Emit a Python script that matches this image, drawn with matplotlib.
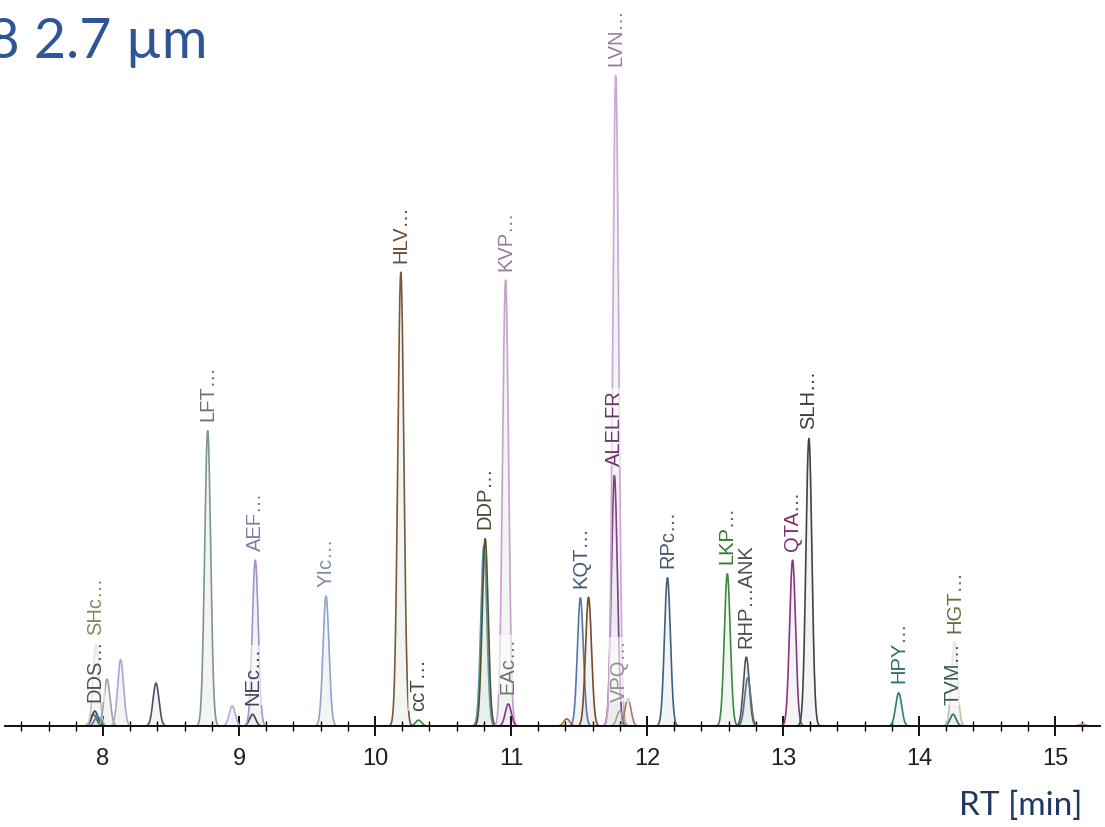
import numpy as np
import matplotlib
matplotlib.use("Agg")
import matplotlib.pyplot as plt
from matplotlib.ticker import MultipleLocator

# retention time (min), relative intensity (%), trace colour
peak_rt = [7.93, 7.94, 7.95, 7.96, 8.03, 8.13, 8.39, 8.77, 8.95, 9.10, 9.12,
           9.64, 10.19, 10.32, 10.80, 10.81, 10.96, 10.98, 11.41, 11.51, 11.57,
           11.76, 11.77, 11.80, 11.86, 12.15, 12.59, 12.73, 12.74, 13.07, 13.19,
           13.85, 14.25, 14.26, 15.20]
peak_height = [1.8, 2.3, 12.6, 1.5, 7.2, 10.2, 6.6, 45.4, 3.1, 1.8, 25.5,
               20.0, 69.8, 0.9, 27.7, 28.8, 68.6, 3.4, 1.1, 19.7, 19.8,
               38.5, 100.0, 2.3, 4.2, 22.8, 23.4, 10.6, 7.4, 25.5, 44.2,
               5.1, 1.8, 12.9, 0.3]
peak_color = ["#3a7a3a", "#3a4a60", "#c8c4a8", "#5a7ab0", "#a0a0a0", "#b8a0d8",
              "#4a5262", "#7e978c", "#b8a8e0", "#404858", "#a890d0", "#8da6c6",
              "#7a5a3c", "#3f7f3f", "#5b9bb0", "#50502a", "#c8a0cc", "#8a3a8a",
              "#9a6a3a", "#5876a8", "#7a4a2a", "#853f85", "#cca6d6", "#a0a0a0",
              "#a08060", "#3f6080", "#3d8a3d", "#4a5560", "#607080", "#8e3585",
              "#3e444c", "#2f7f77", "#2f6f6a", "#c6c2a0", "#c080c0"]

# peptide annotations: index into the peak lists, text, text colour
label_peak = [2, 1, 7, 10, 9, 11, 12, 13, 15, 16, 17, 19, 21, 22, 23, 25, 26,
              27, 29, 30, 31, 32, 33]
label_text = ["SHc…", "DDS…", "LFT…", "AEF…", "NEc…", "YIc…", "HLV…", "ccT…",
              "DDP…", "KVP…", "EAc…", "KQT…", "ALELFR", "LVN…", "VPQ…", "RPc…",
              "LKP…", "RHP…ANK", "QTA…", "SLH…", "HPY…", "TVM…", "HGT…"]
label_color = ["#8a8560", "#4a5060", "#707070", "#8878a8", "#404050", "#7a8fa8",
               "#6b4a2e", "#2f4f2f", "#4a4a30", "#9a7a9a", "#707070", "#3f5a80",
               "#6a3370", "#9a7aa0", "#909090", "#3f5570", "#2e7a2e", "#4a5050",
               "#7a2f70", "#3a3a3a", "#2e6f6a", "#3a5a55", "#6b6b40"]

SIGMA = 0.022
X_MIN, X_MAX = 7.28, 15.33

fig = plt.figure(figsize=(11.05, 8.28), dpi=100)
ax = fig.add_axes([5 / 1105, 101 / 828, 1095 / 1105, 727 / 828])

t = np.linspace(X_MIN, X_MAX, 6000)
for rt, h, c in zip(peak_rt, peak_height, peak_color):
    y = h * np.exp(-0.5 * ((t - rt) / SIGMA) ** 2)
    ax.fill_between(t, y, color="#d8dedc", alpha=0.3, lw=0)
    ax.plot(t, y, color=c, lw=1.2)

for i, txt, c in zip(label_peak, label_text, label_color):
    ax.text(peak_rt[i], peak_height[i] + 1.6, txt, rotation=90, ha="center",
            va="bottom", fontsize=14.5, color=c, family=["Liberation Sans", "DejaVu Sans"],
            bbox=dict(boxstyle="square,pad=0.05", fc="white", ec="none", alpha=0.6),
            zorder=5)

ax.set_xlim(X_MIN, X_MAX)
ax.set_ylim(0, 111.8)
for s in ["left", "right", "top"]:
    ax.spines[s].set_visible(False)
ax.spines["bottom"].set_linewidth(1.3)
ax.set_yticks([])
ax.xaxis.set_major_locator(MultipleLocator(1))
ax.xaxis.set_minor_locator(MultipleLocator(0.2))
ax.tick_params(axis="x", which="major", direction="inout", length=14, width=1.3, pad=8)
ax.tick_params(axis="x", which="minor", direction="inout", length=7, width=1.0)
for lab in ax.get_xticklabels():
    lab.set_fontfamily(["Liberation Sans Narrow", "Liberation Sans"])
    lab.set_fontsize(17)
    lab.set_color("#202020")

fig.text(208 / 1105, 1 - 58 / 828, "C18 2.7 µm", ha="right", va="baseline",
         fontsize=40, color="#2f5597", family=["Lato", "DejaVu Sans"])
fig.text(1082 / 1105, 1 - 815 / 828, "RT [min]", ha="right", va="baseline",
         fontsize=24, color="#1f3864", family=["Lato", "DejaVu Sans"])

fig.savefig("out.png", dpi=100)
